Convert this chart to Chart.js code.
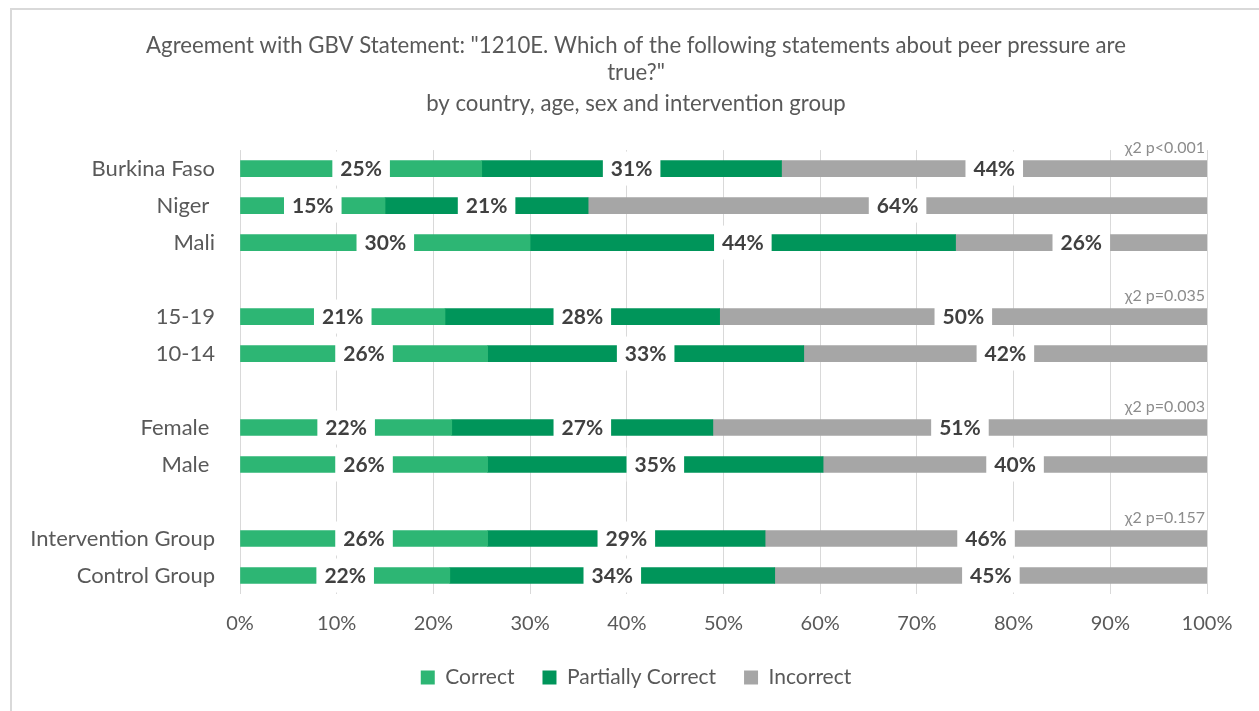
<!DOCTYPE html>
<html>
<head>
<meta charset="utf-8">
<script src="https://cdn.jsdelivr.net/npm/chart.js@4/dist/chart.umd.min.js"></script>
<style>
  html, body { margin: 0; padding: 0; background: #fff; overflow: hidden; }
  #wrap { position: relative; width: 1259px; height: 711px; }
  #frame { position: absolute; left: 10px; top: 8px; width: 1400px; height: 900px;
           border-left: 2px solid #d9d9d9; border-top: 2px solid #d9d9d9; }
  canvas { position: absolute; left: 0; top: 0; }
</style>
</head>
<body>
<div id="wrap">
  <div id="frame"></div>
  <canvas id="chart" width="1259" height="711"></canvas>
</div>
<script>
// Row labels; empty strings leave a gap between the groups
const categories = ['Burkina Faso', 'Niger ', 'Mali', '', '15-19', '10-14', '', 'Female ', 'Male ', '', 'Intervention Group', 'Control Group'];

// Share of answers (%) per row
const correct   = [25, 15, 30, null, 21.2, 25.6, null, 21.9, 25.6, null, 25.6, 21.7];
const partial   = [31, 21, 44, null, 28.4, 32.7, null, 27.0, 34.7, null, 28.7, 33.6];
const incorrect = [44, 64, 26, null, 50.4, 41.7, null, 51.1, 39.7, null, 45.7, 44.7];

const seriesNames = ['Correct', 'Partially Correct', 'Incorrect'];
const seriesColors = ['#2db674', '#00955a', '#a6a6a6'];

// Chi-square test results, shown above the first row of each group
const chiRows   = [0, 4, 7, 10];
const chiLabels = ['χ2 p<0.001', 'χ2 p=0.035', 'χ2 p=0.003', 'χ2 p=0.157'];

const titleLines = ['Agreement with GBV Statement: "1210E. Which of the following statements about peer pressure are', 'true?"'];
const subtitleText = 'by country, age, sex and intervention group';

const FONT = 'Lato, "Open Sans", sans-serif';
const TEXT_GREY = '#595959';

// White boxed percentage in the middle of every segment
const valueLabels = {
  id: 'valueLabels',
  afterDatasetsDraw(chart) {
    const ctx = chart.ctx;
    ctx.save();
    ctx.font = 'bold 21px ' + FONT;
    ctx.textAlign = 'center';
    ctx.textBaseline = 'middle';
    chart.data.datasets.forEach((ds, di) => {
      const meta = chart.getDatasetMeta(di);
      meta.data.forEach((bar, i) => {
        const v = ds.data[i];
        if (v == null) return;
        const txt = Math.round(v) + '%';
        const cx = (bar.x + bar.base) / 2;
        const w = ctx.measureText(txt).width + 16;
        ctx.fillStyle = '#ffffff';
        ctx.fillRect(cx - w / 2, bar.y - 17, w, 34);
        ctx.fillStyle = '#404040';
        ctx.fillText(txt, cx, bar.y + 1);
      });
    });
    ctx.restore();
  }
};

// Test statistics, right-aligned to the 100% line
const chiNotes = {
  id: 'chiNotes',
  afterDraw(chart) {
    const ctx = chart.ctx;
    const xs = chart.scales.x, ys = chart.scales.y;
    ctx.save();
    ctx.font = '16px ' + FONT;
    ctx.fillStyle = '#8c8c8c';
    ctx.textAlign = 'right';
    ctx.textBaseline = 'middle';
    chiRows.forEach((row, k) => {
      ctx.fillText(chiLabels[k], xs.getPixelForValue(100) - 2, ys.getPixelForValue(row) - 21);
    });
    ctx.restore();
  }
};

new Chart(document.getElementById('chart'), {
  type: 'bar',
  data: {
    labels: categories,
    datasets: [correct, partial, incorrect].map((d, i) => ({
      label: seriesNames[i],
      data: d,
      backgroundColor: seriesColors[i],
      borderWidth: 0,
      barThickness: 16
    }))
  },
  options: {
    indexAxis: 'y',
    responsive: false,
    animation: false,
    devicePixelRatio: 1,
    layout: { padding: { left: 13, right: 0, top: 0, bottom: 13 } },
    scales: {
      x: {
        stacked: true,
        min: 0,
        max: 100,
        ticks: {
          stepSize: 10,
          callback: v => v + '%',
          font: { family: FONT, size: 20 },
          color: TEXT_GREY,
          padding: 18
        },
        grid: { color: '#d9d9d9', lineWidth: 1, drawTicks: false },
        border: { display: false },
        afterFit(s) { s.height = 45; }
      },
      y: {
        stacked: true,
        ticks: {
          font: { family: FONT, size: 22 },
          color: TEXT_GREY,
          padding: 25,
          autoSkip: false
        },
        grid: { display: false, drawTicks: false },
        border: { display: false },
        afterFit(s) { s.width = 227; }
      },
      // empty right-hand margin so the plot ends at 100% while the title stays centred on the frame
      yRight: {
        type: 'linear',
        position: 'right',
        display: true,
        ticks: { display: false },
        grid: { display: false, drawTicks: false },
        border: { display: false },
        afterFit(s) { s.width = 52; }
      }
    },
    plugins: {
      title: {
        display: true,
        text: titleLines,
        color: TEXT_GREY,
        font: { family: FONT, size: 22.2, weight: 'normal', lineHeight: 1.24 },
        padding: { top: 32, bottom: 0 }
      },
      subtitle: {
        display: true,
        text: subtitleText,
        color: TEXT_GREY,
        font: { family: FONT, size: 22.2, lineHeight: 1.24 },
        padding: { top: 3, bottom: 32.5 }
      },
      legend: {
        position: 'bottom',
        labels: {
          boxWidth: 14,
          boxHeight: 14,
          padding: 28,
          color: TEXT_GREY,
          font: { family: FONT, size: 21 }
        }
      },
      tooltip: { enabled: false }
    }
  },
  plugins: [valueLabels, chiNotes]
});
</script>
</body>
</html>
